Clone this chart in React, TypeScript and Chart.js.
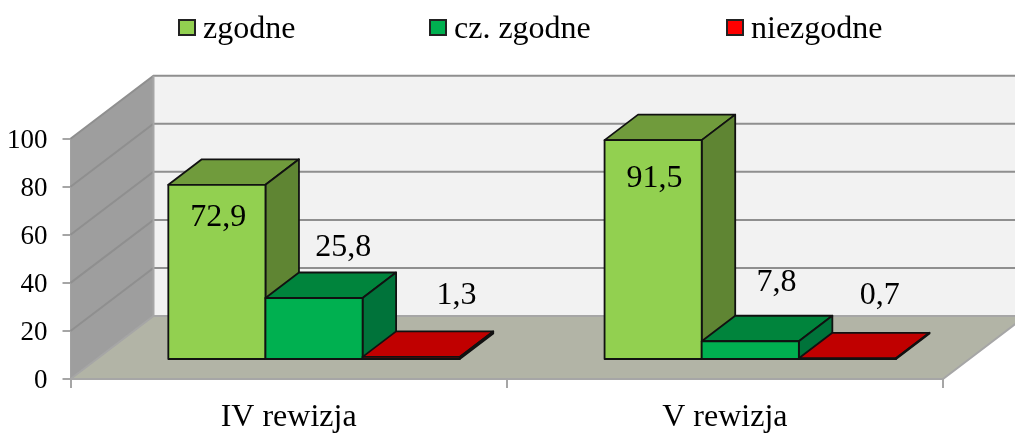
import React, { useEffect, useRef } from "react";
import { Chart, registerables } from "chart.js";

Chart.register(...registerables);

const categories = ["IV rewizja", "V rewizja"];
const seriesNames = ["zgodne", "cz. zgodne", "niezgodne"];
const zgodne = [72.9, 91.5];
const czZgodne = [25.8, 7.8];
const niezgodne = [1.3, 0.7];
const yTicks = [0, 20, 40, 60, 80, 100];

const FONT = '"Liberation Serif", "Times New Roman", serif';
const WALL_DX = 83;
const WALL_DY = -63;
const BAR_SHIFT_X = 25.4;
const BAR_SHIFT_Y = -19;
const BAR_DX = 33.5;
const BAR_DY = -25.5;
const GRID = "#8f8f8f";
const AXIS = "#a6a6a6";
const EDGE = "#111";

const legendFill = ["#92D050", "#00B050", "#FF0000"];
const barFront = ["#92D050", "#00B050", "#C00000"];
const topFace = ["#709B3C", "#00843C", "#C00000"];
const sideFace = ["#5F8533", "#00733A", "#800000"];

// offset of each value label from the bar's top-centre
const labelOffsets = [
  [[1.3, 33], [1.3, 38]],
  [[29.3, -50.5], [26.3, -58.5]],
  [[45.3, -61.5], [32.3, -62.5]],
];
const legendX = [178, 429, 726];

const poly = (ctx: CanvasRenderingContext2D, pts: number[][], fill: string, stroke?: string, lw = 1) => {
  ctx.beginPath();
  pts.forEach((p, i) => (i ? ctx.lineTo(p[0], p[1]) : ctx.moveTo(p[0], p[1])));
  ctx.closePath();
  ctx.fillStyle = fill;
  ctx.fill();
  if (stroke) {
    ctx.strokeStyle = stroke;
    ctx.lineWidth = lw;
    ctx.lineJoin = "round";
    ctx.stroke();
  }
};

const walls = {
  id: "walls",
  beforeDatasetsDraw(chart: any) {
    const { ctx, chartArea: a, scales } = chart;
    const y = scales.y;
    const l = a.left, r = a.right, b = a.bottom, t = a.top;
    ctx.save();
    poly(ctx, [[l + WALL_DX, t + WALL_DY], [r + WALL_DX, t + WALL_DY], [r + WALL_DX, b + WALL_DY], [l + WALL_DX, b + WALL_DY]], "#F2F2F2");
    poly(ctx, [[l, t], [l + WALL_DX, t + WALL_DY], [l + WALL_DX, b + WALL_DY], [l, b]], "#9E9E9E");
    poly(ctx, [[l, b], [l + WALL_DX, b + WALL_DY], [r + WALL_DX, b + WALL_DY], [r, b]], "#B2B4A6");
    ctx.lineWidth = 2;
    yTicks.forEach((v) => {
      const py = y.getPixelForValue(v);
      ctx.strokeStyle = v === 0 ? AXIS : GRID;
      ctx.beginPath();
      ctx.moveTo(l, py);
      ctx.lineTo(l + WALL_DX, py + WALL_DY);
      ctx.lineTo(r + WALL_DX, py + WALL_DY);
      ctx.stroke();
    });
    ctx.strokeStyle = AXIS;
    ctx.beginPath();
    ctx.moveTo(l + WALL_DX, t + WALL_DY);
    ctx.lineTo(l + WALL_DX, b + WALL_DY);
    ctx.moveTo(l, b);
    ctx.lineTo(r, b);
    ctx.lineTo(r + WALL_DX, b + WALL_DY);
    ctx.stroke();
    ctx.restore();
  },
};

const bars3d = {
  id: "bars3d",
  beforeDatasetDraw() {
    return false;
  },
  afterDatasetsDraw(chart: any) {
    const { ctx } = chart;
    ctx.save();
    ctx.translate(BAR_SHIFT_X, BAR_SHIFT_Y);
    chart.data.datasets.forEach((_: any, d: number) => {
      chart.getDatasetMeta(d).data.forEach((el: any) => {
        const x0 = el.x - el.width / 2;
        const x1 = el.x + el.width / 2;
        const yt = el.y;
        const yb = el.base;
        poly(ctx, [[x0, yt], [x0 + BAR_DX, yt + BAR_DY], [x1 + BAR_DX, yt + BAR_DY], [x1, yt]], topFace[d], EDGE, 1.8);
        poly(ctx, [[x1, yt], [x1 + BAR_DX, yt + BAR_DY], [x1 + BAR_DX, yb + BAR_DY], [x1, yb]], sideFace[d], EDGE, 1.8);
        el.draw(ctx);
        ctx.strokeStyle = EDGE;
        ctx.lineWidth = 1.8;
        ctx.strokeRect(x0, yt, x1 - x0, yb - yt);
      });
    });
    ctx.restore();
    // value labels
    ctx.save();
    ctx.font = `32px ${FONT}`;
    ctx.fillStyle = "#000";
    ctx.textAlign = "center";
    ctx.textBaseline = "middle";
    chart.data.datasets.forEach((ds: any, d: number) => {
      chart.getDatasetMeta(d).data.forEach((el: any, i: number) => {
        const [ox, oy] = labelOffsets[d][i];
        const text = String(ds.data[i]).replace(".", ",");
        ctx.fillText(text, el.x + BAR_SHIFT_X + ox, el.y + BAR_SHIFT_Y + oy);
      });
    });
    ctx.restore();
  },
};

const legend3 = {
  id: "legend3",
  afterDraw(chart: any) {
    const { ctx } = chart;
    ctx.save();
    ctx.font = `32px ${FONT}`;
    ctx.textAlign = "left";
    ctx.textBaseline = "middle";
    chart.data.datasets.forEach((ds: any, d: number) => {
      ctx.fillStyle = legendFill[d];
      ctx.strokeStyle = "#222";
      ctx.lineWidth = 2;
      ctx.fillRect(legendX[d] + 1, 20, 16, 15);
      ctx.strokeRect(legendX[d] + 1, 20, 16, 15);
      ctx.fillStyle = "#000";
      ctx.fillText(ds.label, legendX[d] + 25, 30);
    });
    ctx.restore();
  },
};

export default function App() {
  const ref = useRef<HTMLCanvasElement>(null);
  useEffect(() => {
    const chart = new Chart(ref.current!, {
      type: "bar",
      data: {
        labels: categories,
        datasets: [zgodne, czZgodne, niezgodne].map((data, d) => ({
          label: seriesNames[d],
          data,
          backgroundColor: barFront[d],
          borderWidth: 0,
          categoryPercentage: 0.668,
          barPercentage: 1,
          clip: false,
        })),
      } as any,
      options: {
        animation: false,
        responsive: false,
        maintainAspectRatio: false,
        layout: { padding: { left: 0, right: 72, top: 138.7, bottom: 0 } },
        plugins: { legend: { display: false }, tooltip: { enabled: false }, title: { display: false } },
        scales: {
          x: {
            grid: { display: true, drawOnChartArea: false, color: AXIS, lineWidth: 2, tickLength: 9 },
            border: { display: false },
            ticks: { color: "#000", font: { family: FONT, size: 32 }, padding: 10 },
            afterFit: (s: any) => { s.height = 54; },
          },
          y: {
            min: 0,
            max: 100,
            grid: { display: true, drawOnChartArea: false, color: AXIS, lineWidth: 2, tickLength: 8 },
            border: { display: true, color: AXIS, width: 2 },
            ticks: { color: "#000", font: { family: FONT, size: 27 }, stepSize: 20, padding: 15, labelOffset: 2 },
            afterFit: (s: any) => { s.width = 70.5; },
          },
        },
      } as any,
      plugins: [walls, bars3d, legend3] as any,
    });
    return () => chart.destroy();
  }, []);
  return (
    <div style={{ position: "fixed", left: 0, top: 0, width: 1015, height: 433, background: "#fff" }}>
      <canvas ref={ref} width={1015} height={433} style={{ display: "block" }} />
    </div>
  );
}
